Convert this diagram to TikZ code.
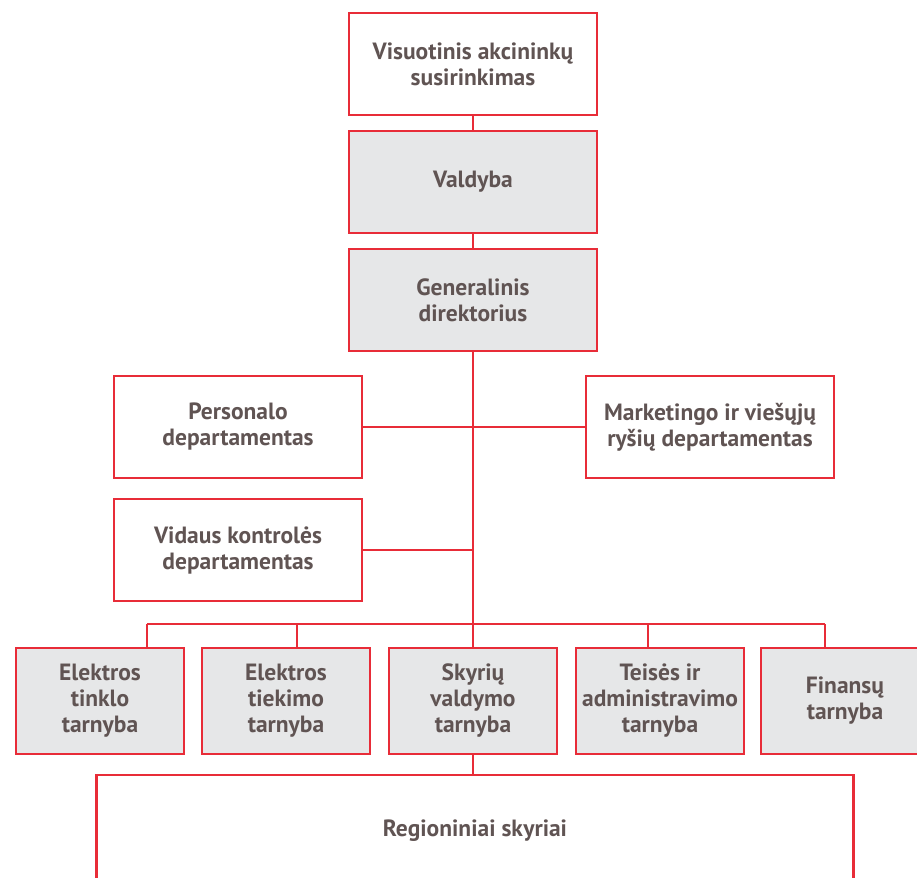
\documentclass[tikz,border=0pt]{standalone}
\usepackage{fontspec}
\setmainfont{PT Sans}
\definecolor{orgred}{RGB}{232,44,56}
\definecolor{orggray}{RGB}{230,231,232}
\definecolor{orgtext}{RGB}{96,84,83}
\begin{document}
\begin{tikzpicture}
  [x=1pt,y=-1pt,
   every node/.style={draw=orgred,line width=2.6pt,align=center,text=orgtext,
     font=\fontsize{23.5}{26}\selectfont\bfseries,inner sep=0pt},
   unit/.style={minimum width=248pt,minimum height=102pt},
   service/.style={fill=orggray,minimum width=168pt,minimum height=106pt},
   link/.style={draw=orgred,line width=2.4pt}]

  \useasboundingbox (0,0) rectangle (917,877);
  \clip (0,0) rectangle (917,877);

  % management
  \node [unit] (meeting) at (473,64) {Visuotinis akcininkų\\susirinkimas};
  \node [unit,fill=orggray] (board) at (473,182) {Valdyba};
  \node [unit,fill=orggray] (ceo) at (473,300) {Generalinis\\direktorius};

  % departments
  \node [unit] (staff) at (238,427) {Personalo\\departamentas};
  \node [unit] (marketing) at (710,427) {Marketingo ir viešųjų\\ryšių departamentas};
  \node [unit] (control) at (238,550) {Vidaus kontrolės\\departamentas};

  % services
  \node [service] (grid) at (100,701) {Elektros\\tinklo\\tarnyba};
  \node [service] (supply) at (286,701) {Elektros\\tiekimo\\tarnyba};
  \node [service] (branches) at (473,701) {Skyrių\\valdymo\\tarnyba};
  \node [service] (legal) at (660,701) {Teisės ir\\administravimo\\tarnyba};
  \node [service] (finance) at (845,701) {Finansų\\tarnyba};

  \node [minimum width=757pt,minimum height=112pt] (regions) at (475,831) {Regioniniai skyriai};

  \coordinate (busL) at (147,624);
  \coordinate (busR) at (825,624);
  \coordinate (dropB) at (297,624);
  \coordinate (dropD) at (648,624);

  \draw [link] (meeting) -- (board);
  \draw [link] (board) -- (ceo);
  \draw [link] (ceo) -- (branches);
  \draw [link] (staff.east) -- (staff.east -| ceo.south);
  \draw [link] (marketing.west) -- (marketing.west -| ceo.south);
  \draw [link] (control.east) -- (control.east -| ceo.south);
  \draw [link] (busL) -- (busR);
  \draw [link] (busL) -- (busL |- grid.north);
  \draw [link] (dropB) -- (dropB |- supply.north);
  \draw [link] (dropD) -- (dropD |- legal.north);
  \draw [link] (busR) -- (busR |- finance.north);
  \draw [link] (branches.south) -- (branches.south |- regions.north);
\end{tikzpicture}
\end{document}
